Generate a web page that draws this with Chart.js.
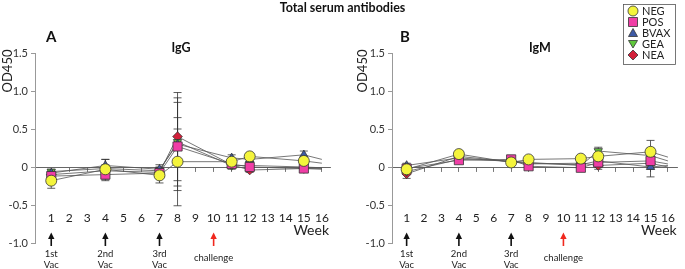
<!DOCTYPE html>
<html>
<head>
<meta charset="utf-8">
<script src="https://cdn.jsdelivr.net/npm/chart.js@4.4.1/dist/chart.umd.min.js"></script>
<style>
  body { margin: 0; background: #fff; width: 685px; height: 269px; overflow: hidden; position: relative; font-family: Lato, 'Open Sans', sans-serif; }
  #title { position: absolute; top: 1px; left: 0; width: 685px; text-align: center; font-weight: bold; font-size: 12.5px; line-height: 14px; color: #111; z-index: 2; }
  .wrap { position: absolute; top: 0; height: 269px; }
</style>
</head>
<body>
<div id="title">Total serum antibodies</div>
<div class="wrap" style="left:0;width:342px"><canvas id="chartA"></canvas></div>
<div class="wrap" style="left:342px;width:343px"><canvas id="chartB"></canvas></div>
<script>
// sampling weeks and axis ticks
const weeks = [1, 4, 7, 8, 11, 12, 15, 16];
const weekTicks = [1, 2, 3, 4, 5, 6, 7, 8, 9, 10, 11, 12, 13, 14, 15, 16];
const yTicks = [-1.0, -0.5, 0, 0.5, 1.0, 1.5];
const groups = ['NEG', 'POS', 'BVAX', 'GEA', 'NEA'];

// IgG means (OD450) and error bars
const iggNEG  = [-0.18, -0.03, -0.11, 0.07, 0.07, 0.14, 0.08, 0.05];
const iggPOS  = [-0.12, -0.10, -0.08, 0.27, 0.04, 0.00, -0.02, -0.02];
const iggBVAX = [-0.08, 0.02, -0.03, 0.30, 0.12, 0.10, 0.16, 0.10];
const iggGEA  = [-0.06, -0.02, -0.05, 0.33, 0.02, 0.02, 0.00, -0.01];
const iggNEA  = [-0.10, -0.05, -0.07, 0.40, 0.03, -0.04, -0.02, -0.03];
const iggNEGerr  = [0.10, 0.13, 0.10, 0.58, 0.04, 0.04, 0.04, 0];
const iggPOSerr  = [0.05, 0.08, 0.05, 0.58, 0.04, 0.03, 0.03, 0];
const iggBVAXerr = [0.03, 0.08, 0.06, 0.20, 0.04, 0.03, 0.05, 0];
const iggGEAerr  = [0.03, 0.05, 0.05, 0.58, 0.05, 0.03, 0.03, 0];
const iggNEAerr  = [0.04, 0.05, 0.05, 0.58, 0.03, 0.03, 0.03, 0];

// IgM means (OD450) and error bars
const igmNEG  = [-0.03, 0.17, 0.06, 0.10, 0.11, 0.14, 0.20, 0.13];
const igmPOS  = [-0.02, 0.09, 0.10, 0.01, -0.01, 0.06, 0.08, 0.04];
const igmBVAX = [0.02, 0.12, 0.07, 0.05, 0.03, 0.08, 0.00, 0.02];
const igmGEA  = [-0.06, 0.10, 0.08, 0.06, 0.02, 0.21, 0.15, 0.08];
const igmNEA  = [-0.09, 0.14, 0.07, 0.04, 0.05, 0.02, 0.05, 0.00];
const igmNEGerr  = [0.05, 0.04, 0.03, 0.03, 0.03, 0.05, 0.15, 0];
const igmPOSerr  = [0.04, 0.03, 0.03, 0.03, 0.03, 0.04, 0.08, 0];
const igmBVAXerr = [0.03, 0.03, 0.03, 0.03, 0.03, 0.04, 0.13, 0];
const igmGEAerr  = [0.04, 0.03, 0.03, 0.03, 0.03, 0.05, 0.10, 0];
const igmNEAerr  = [0.06, 0.03, 0.03, 0.03, 0.03, 0.05, 0.08, 0];

// vaccination / challenge markers
const arrowWeeks = [1, 4, 7, 10];
const arrowLabels = [['1st', 'Vac'], ['2nd', 'Vac'], ['3rd', 'Vac'], ['challenge']];

const styles = {
  NEG:  { color: '#f4f43c', shape: 'circle', r: 5.5, rot: 0 },
  POS:  { color: '#f03ea6', shape: 'rect', r: 6.5, rot: 0 },
  BVAX: { color: '#3d5aa6', shape: 'triangle', r: 4.8, rot: 0 },
  GEA:  { color: '#5fc83c', shape: 'triangle', r: 4.8, rot: 180 },
  NEA:  { color: '#d2203a', shape: 'rectRot', r: 4.8, rot: 0 }
};

function makeSets(series, errs) {
  return groups.map((g, i) => ({
    label: g,
    data: weeks.map((w, j) => ({ x: w, y: series[i][j] })),
    err: errs[i],
    borderColor: '#555',
    borderWidth: 0.8,
    backgroundColor: styles[g].color,
    pointBackgroundColor: styles[g].color,
    pointBorderColor: '#333',
    pointBorderWidth: 0.8,
    pointStyle: styles[g].shape,
    pointRotation: styles[g].rot,
    pointRadius: weeks.map((w, j) => j === weeks.length - 1 ? 0 : styles[g].r),
    tension: 0
  }));
}

const errorBars = {
  id: 'errorBars',
  beforeDatasetsDraw(chart) {
    const ctx = chart.ctx, ys = chart.scales.y;
    ctx.save();
    ctx.strokeStyle = '#333';
    ctx.lineWidth = 0.8;
    chart.data.datasets.forEach((ds, i) => {
      const meta = chart.getDatasetMeta(i);
      ds.data.forEach((p, j) => {
        const e = ds.err[j];
        if (!e) return;
        const x = meta.data[j].x;
        const t = ys.getPixelForValue(p.y + e), b = ys.getPixelForValue(p.y - e);
        ctx.beginPath();
        ctx.moveTo(x, t); ctx.lineTo(x, b);
        ctx.moveTo(x - 4, t); ctx.lineTo(x + 4, t);
        ctx.moveTo(x - 4, b); ctx.lineTo(x + 4, b);
        ctx.stroke();
      });
    });
    ctx.restore();
  }
};

function shape(ctx, s, x, y) {
  ctx.beginPath();
  if (s.shape === 'circle') ctx.arc(x, y, 5, 0, Math.PI * 2);
  else if (s.shape === 'rect') ctx.rect(x - 4.5, y - 4.5, 9, 9);
  else if (s.shape === 'rectRot') { ctx.moveTo(x, y - 5); ctx.lineTo(x + 5, y); ctx.lineTo(x, y + 5); ctx.lineTo(x - 5, y); ctx.closePath(); }
  else if (s.rot) { ctx.moveTo(x - 4.5, y - 3.5); ctx.lineTo(x + 4.5, y - 3.5); ctx.lineTo(x, y + 4); ctx.closePath(); }
  else { ctx.moveTo(x, y - 4.5); ctx.lineTo(x + 4.5, y + 3.5); ctx.lineTo(x - 4.5, y + 3.5); ctx.closePath(); }
  ctx.fillStyle = s.color; ctx.fill();
  ctx.strokeStyle = '#333'; ctx.lineWidth = 0.8; ctx.stroke();
}

const decor = {
  id: 'decor',
  afterDraw(chart, args, o) {
    const ctx = chart.ctx, xs = chart.scales.x, area = chart.chartArea;
    const font = "Lato, 'Open Sans', sans-serif";
    ctx.save();
    ctx.fillStyle = '#111';
    ctx.textBaseline = 'middle';
    ctx.font = 'bold 15px ' + font;
    ctx.textAlign = 'left';
    ctx.fillText(o.letter, o.letterX, 37);
    ctx.font = 'bold 12.5px ' + font;
    ctx.textAlign = 'center';
    ctx.fillText(o.sub, o.subX, 48);
    // y title
    ctx.save();
    ctx.translate(o.odX, 71);
    ctx.rotate(-Math.PI / 2);
    ctx.font = '13px ' + font;
    ctx.fillStyle = '#222';
    ctx.fillText('OD450', 0, 0);
    ctx.restore();
    // Week
    ctx.font = '14px ' + font;
    ctx.fillStyle = '#222';
    ctx.textAlign = 'right';
    ctx.fillText('Week', area.right - 1, 230);
    // arrows and labels
    arrowWeeks.forEach((w, i) => {
      const x = xs.getPixelForValue(w);
      const c = i === 3 ? '#f0281e' : '#111';
      ctx.strokeStyle = c; ctx.fillStyle = c; ctx.lineWidth = 1.6;
      ctx.beginPath(); ctx.moveTo(x, 246); ctx.lineTo(x, 237); ctx.stroke();
      ctx.beginPath(); ctx.moveTo(x, 232.5); ctx.lineTo(x - 3.2, 239); ctx.lineTo(x + 3.2, 239); ctx.closePath(); ctx.fill();
      ctx.fillStyle = '#222';
      ctx.font = '9.5px ' + font;
      ctx.textAlign = 'center';
      const lab = arrowLabels[i];
      if (lab.length === 1) ctx.fillText(lab[0], x, 258);
      else { ctx.fillText(lab[0], x, 254); ctx.fillText(lab[1], x, 265); }
    });
    // legend
    if (o.legend) {
      const lx = o.legend.x, ly = o.legend.y;
      ctx.strokeStyle = '#555'; ctx.lineWidth = 0.8;
      ctx.strokeRect(lx + 0.5, ly + 0.5, 52, 60);
      groups.forEach((g, i) => {
        const yy = ly + 7 + i * 11;
        shape(ctx, styles[g], lx + 10, yy);
        ctx.fillStyle = '#222';
        ctx.font = '11px ' + font;
        ctx.textAlign = 'left';
        ctx.fillText(g, lx + 19, yy);
      });
    }
    ctx.restore();
  }
};

function makeChart(id, sets, o) {
  return new Chart(document.getElementById(id), {
    type: 'line',
    data: { datasets: sets },
    options: {
      responsive: true,
      maintainAspectRatio: false,
      animation: false,
      layout: { padding: { top: 53, bottom: 26, left: 0, right: o.padRight } },
      plugins: { legend: { display: false }, tooltip: { enabled: false }, decor: o },
      scales: {
        x: {
          type: 'linear',
          min: o.xmin,
          max: o.xmax,
          position: { y: 0 },
          afterBuildTicks: s => { s.ticks = weekTicks.map(v => ({ value: v })); },
          // labels sit far below the zero line; keep that gap out of the side padding
          afterFit: s => { s.paddingLeft = 0; s.paddingRight = 0; },
          ticks: { autoSkip: false, maxRotation: 0, padding: 40, color: '#222', font: { size: 12, family: "Lato, 'Open Sans', sans-serif" } },
          grid: { drawOnChartArea: false, drawTicks: true, tickLength: 4, color: '#555', lineWidth: 0.8 },
          border: { display: true, color: '#555', width: 0.9 }
        },
        y: {
          min: -1,
          max: 1.5,
          afterFit: s => { s.width = o.yWidth; },
          afterBuildTicks: s => { s.ticks = yTicks.map(v => ({ value: v })); },
          ticks: { padding: 3, color: '#333', font: { size: 11, family: "Lato, 'Open Sans', sans-serif" },
                   callback: v => v === 0 ? '0' : v.toFixed(1) },
          grid: { drawOnChartArea: false, drawTicks: true, tickLength: 4, color: '#999' },
          border: { color: '#999', width: 1 }
        }
      }
    },
    plugins: [errorBars, decor]
  });
}

makeChart('chartA',
  makeSets([iggNEG, iggPOS, iggBVAX, iggGEA, iggNEA], [iggNEGerr, iggPOSerr, iggBVAXerr, iggGEAerr, iggNEAerr]),
  { letter: 'A', letterX: 46, sub: 'IgG', subX: 181, odX: 8, yWidth: 35, padRight: 12, xmin: 0.1, xmax: 16.45 });

makeChart('chartB',
  makeSets([igmNEG, igmPOS, igmBVAX, igmGEA, igmNEA], [igmNEGerr, igmPOSerr, igmBVAXerr, igmGEAerr, igmNEAerr]),
  { letter: 'B', letterX: 58, sub: 'IgM', subX: 198, odX: 21, yWidth: 50, padRight: 0, xmin: 0.16, xmax: 16.56,
    legend: { x: 281, y: 4 } });
</script>
</body>
</html>
